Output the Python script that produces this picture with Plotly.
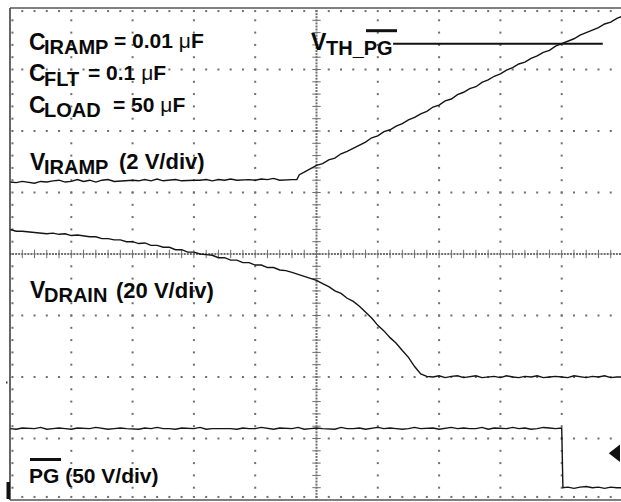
import numpy as np
import plotly.graph_objects as go

# ---------------- data (oscilloscope divisions) ----------------
# V_IRAMP: flat part then linear ramp
t_iramp = [round(0.1 * i, 2) for i in range(47)] + [4.68, 4.72] + \
          [round(4.8 + 0.1 * i, 2) for i in range(52)] + [9.97]
v_iramp = [5.17, 5.16, 5.18, 5.17, 5.15, 5.18, 5.17, 5.19, 5.20, 5.17,
           5.18, 5.21, 5.18, 5.20, 5.17, 5.20, 5.21, 5.18, 5.19, 5.19,
           5.20, 5.19, 5.21, 5.19, 5.22, 5.19, 5.20, 5.21, 5.19, 5.20,
           5.20, 5.20, 5.21, 5.19, 5.21, 5.20, 5.22, 5.20, 5.21, 5.21,
           5.20, 5.22, 5.21, 5.23, 5.20, 5.21, 5.21,
           5.21, 5.29,
           5.33, 5.38, 5.44, 5.47, 5.53, 5.56, 5.63, 5.67, 5.72, 5.78,
           5.82, 5.89, 5.92, 5.99, 6.02, 6.08, 6.12, 6.18, 6.22, 6.28,
           6.32, 6.39, 6.42, 6.49, 6.52, 6.59, 6.63, 6.69, 6.72, 6.79,
           6.83, 6.89, 6.93, 6.99, 7.03, 7.09, 7.12, 7.18, 7.22, 7.28,
           7.31, 7.38, 7.42, 7.47, 7.50, 7.56, 7.60, 7.65, 7.68, 7.74,
           7.77, 7.83,
           7.86]

# V_DRAIN
t_drain = [round(0.1 * i, 2) for i in range(100)] + [9.97]
v_drain = [4.40, 4.37, 4.37, 4.36, 4.35, 4.35, 4.33, 4.34, 4.32, 4.33,
           4.30, 4.31, 4.29, 4.28, 4.28, 4.25, 4.25, 4.23, 4.23, 4.20,
           4.20, 4.17, 4.18, 4.14, 4.14, 4.11, 4.11, 4.07, 4.07, 4.03,
           4.03, 4.00, 3.99, 3.98, 3.94, 3.94, 3.90, 3.90, 3.86, 3.86,
           3.82, 3.82, 3.78, 3.78, 3.74, 3.73, 3.70, 3.67, 3.64, 3.60,
           3.57, 3.52, 3.47, 3.40, 3.36, 3.28, 3.23, 3.15, 3.06, 2.96,
           2.84, 2.75, 2.64, 2.55, 2.43, 2.32, 2.17, 2.05, 2.01, 2.00,
           2.02, 1.99, 2.01, 2.02, 1.99, 2.00, 2.02, 1.99, 2.00, 2.01,
           1.99, 2.02, 2.00, 1.99, 2.01, 2.00, 2.02, 1.99, 2.00, 2.01,
           2.00, 1.99, 2.02, 2.00, 1.99, 2.01, 2.00, 2.02, 1.99, 2.00,
           2.00]

# PG (active low)
t_pg = [round(0.1 * i, 2) for i in range(91)] + [9.02] + \
       [round(9.1 + 0.1 * i, 2) for i in range(9)] + [9.97]
v_pg = [1.16, 1.15, 1.17, 1.16, 1.16, 1.18, 1.15, 1.16, 1.17, 1.16,
        1.15, 1.17, 1.16, 1.16, 1.18, 1.16, 1.15, 1.16, 1.17, 1.16,
        1.16, 1.15, 1.17, 1.16, 1.18, 1.16, 1.16, 1.15, 1.17, 1.16,
        1.16, 1.18, 1.15, 1.16, 1.16, 1.17, 1.16, 1.15, 1.17, 1.16,
        1.16, 1.18, 1.16, 1.15, 1.17, 1.16, 1.16, 1.18, 1.15, 1.16,
        1.17, 1.16, 1.16, 1.15, 1.18, 1.16, 1.16, 1.17, 1.15, 1.16,
        1.18, 1.16, 1.17, 1.16, 1.15, 1.16, 1.18, 1.16, 1.16, 1.17,
        1.15, 1.16, 1.18, 1.16, 1.17, 1.16, 1.16, 1.18, 1.15, 1.17,
        1.16, 1.16, 1.18, 1.16, 1.17, 1.15, 1.16, 1.18, 1.17, 1.16,
        1.17,
        0.20,
        0.21, 0.19, 0.21, 0.22, 0.20, 0.21, 0.19, 0.21, 0.20,
        0.20]

vth_pg_t = [6.25, 9.67]
vth_pg_level = [7.42, 7.42]

trigger_t = [9.89]
trigger_level = [0.76]

# ---------------- geometry ----------------
W, H = 621, 502
ML, MT, MB = 10, 8, 2
PLOT_W = W - ML
PLOT_H = H - MT - MB
XDIV = 61.3
YDIV = PLOT_H / 8.0
XMAX = PLOT_W / XDIV


def X(px):
    return (px - ML) / XDIV


def Y(py):
    return (H - MB - py) / YDIV


fig = go.Figure()

# ---------------- graticule ----------------
gx, gy = [], []
for k in range(1, 10):
    if k == 5:
        continue
    for v in np.arange(0.2, 8.0, 0.2):
        gx.append(k); gy.append(v)
for j in range(1, 8):
    if j == 4:
        continue
    for u in np.arange(0.2, 10.0, 0.2):
        gx.append(u); gy.append(j)
for v in np.arange(0.2, 8.0, 0.2):
    gx.append(0.04); gy.append(v)
for u in np.arange(0.2, 10.0, 0.2):
    gx.append(u); gy.append(0.05)
    gx.append(u); gy.append(7.95)
for v in np.arange(0.0, 8.0, 0.05):
    gx.append(5); gy.append(v)
for u in np.arange(0.0, 10.0, 0.05):
    gx.append(u); gy.append(4)

fig.add_trace(go.Scatter(x=gx, y=gy, mode="markers", hoverinfo="skip",
                         marker=dict(symbol="square", size=2, color="#6e6e6e", line=dict(width=0))))
tx = list(np.arange(0.2, 10.0, 0.2))
fig.add_trace(go.Scatter(x=tx, y=[4] * len(tx), mode="markers", hoverinfo="skip",
                         marker=dict(symbol="line-ns", size=6, line=dict(width=1, color="#6e6e6e"))))
ty = list(np.arange(0.2, 8.0, 0.2))
fig.add_trace(go.Scatter(x=[5] * len(ty), y=ty, mode="markers", hoverinfo="skip",
                         marker=dict(symbol="line-ew", size=6, line=dict(width=1, color="#6e6e6e"))))

# ---------------- traces ----------------
tr = dict(mode="lines", line=dict(color="#141414", width=1.4), hoverinfo="skip")
fig.add_trace(go.Scatter(x=t_iramp, y=v_iramp, **tr))
fig.add_trace(go.Scatter(x=t_drain, y=v_drain, **tr))
fig.add_trace(go.Scatter(x=t_pg, y=v_pg, **tr))
fig.add_trace(go.Scatter(x=vth_pg_t, y=vth_pg_level, mode="lines",
                         line=dict(color="#111", width=2), hoverinfo="skip"))
fig.add_trace(go.Scatter(x=trigger_t, y=trigger_level, mode="markers", cliponaxis=False,
                         hoverinfo="skip",
                         marker=dict(symbol="triangle-left", size=15, color="#111",
                                     line=dict(width=0))))

# ---------------- labels ----------------
FONT = "Liberation Sans, Arial, sans-serif"


def label(text, px, py_mid, size):
    fig.add_annotation(x=X(px), y=Y(py_mid), xref="x", yref="y", text=text,
                       showarrow=False, xanchor="left", yanchor="middle",
                       borderpad=0, borderwidth=0,
                       font=dict(family=FONT, size=size, color="#0a0a0a"))


MAIN, SUB, REST, DIV = 23, 20, 21, 22
label("<b>C</b>", 29, 41.5, MAIN)
label("<b>IRAMP</b>", 44, 46.5, SUB)
label("<b>= 0.01 </b>μ<b>F</b>", 114, 40.5, REST)

label("<b>C</b>", 29, 73, MAIN)
label("<b>FLT</b>", 44, 78.5, SUB)
label("<b>= 0.1 </b>μ<b>F</b>", 88, 72.5, REST)

label("<b>C</b>", 29, 105, MAIN)
label("<b>LOAD</b>", 44, 109.5, SUB)
label("<b>= 50 </b>μ<b>F</b>", 113, 104.5, REST)

label("<b>V</b>", 30, 161.5, MAIN)
label("<b>IRAMP</b>", 44, 166.5, SUB)
label("<b>(2 V/div)</b>", 119, 161.5, DIV)

label("<b>V</b>", 30, 290, MAIN)
label("<b>DRAIN</b>", 44, 295, SUB)
label("<b>(20 V/div)</b>", 116, 290, DIV)

label("<b>PG (50 V/div)</b>", 29, 475, REST)

label("<b>V</b>", 311, 42, MAIN)
label("<b>TH_PG</b>", 326, 47.5, SUB)

# overlines and frame
shapes = []


def hline(px0, px1, py, w, color="#111"):
    shapes.append(dict(type="line", xref="x", yref="y", x0=X(px0), x1=X(px1), y0=Y(py), y1=Y(py),
                       line=dict(color=color, width=w)))


hline(30, 61, 459.5, 3)
hline(366, 397, 30.7, 3)

shapes.append(dict(type="line", xref="paper", yref="paper", x0=0, x1=0, y0=0, y1=1,
                   line=dict(color="#333", width=1.5)))
shapes.append(dict(type="line", xref="paper", yref="paper", x0=0, x1=1, y0=1, y1=1,
                   line=dict(color="#555", width=1.5)))
shapes.append(dict(type="line", xref="paper", yref="paper", x0=0, x1=1, y0=0, y1=0,
                   line=dict(color="#555", width=1.5)))
shapes.append(dict(type="rect", xref="paper", yref="paper",
                   x0=-3.5 / PLOT_W, x1=0, y0=(H - MB - 499) / PLOT_H, y1=(H - MB - 482) / PLOT_H,
                   fillcolor="#111", line=dict(width=0)))
shapes.append(dict(type="rect", xref="paper", yref="paper",
                   x0=-4 / PLOT_W, x1=-2.5 / PLOT_W, y0=(H - MB - 383.5) / PLOT_H,
                   y1=(H - MB - 381.5) / PLOT_H, fillcolor="#333", line=dict(width=0)))

fig.update_layout(
    width=W, height=H,
    margin=dict(l=ML, r=0, t=MT, b=MB, pad=0),
    paper_bgcolor="white", plot_bgcolor="white",
    showlegend=False,
    shapes=shapes,
    xaxis=dict(range=[0, XMAX], showgrid=False, zeroline=False, showticklabels=False,
               ticks="", showline=False, fixedrange=True),
    yaxis=dict(range=[0, 8], showgrid=False, zeroline=False, showticklabels=False,
               ticks="", showline=False, fixedrange=True),
)

fig.write_html("out.html", config={"displayModeBar": False},
               post_script="document.body.style.margin='0px';")
